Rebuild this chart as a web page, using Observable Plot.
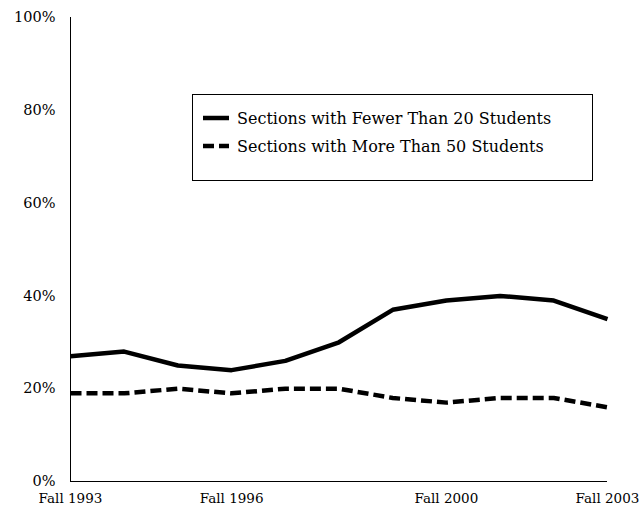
<!DOCTYPE html>
<html><head>
<meta charset="utf-8">
<script src="https://cdn.jsdelivr.net/npm/d3@7"></script>
<script src="https://cdn.jsdelivr.net/npm/@observablehq/plot@0.6"></script>
<style>
body{margin:0;background:#fff;}
#chart svg{display:block;}
</style>
</head><body><div id="chart"></div>
<script>
const years = [1993,1994,1995,1996,1997,1998,1999,2000,2001,2002,2003];
const fewerThan20 = [27,28,25,24,26,30,37,39,40,39,35];
const moreThan50 = [19,19,20,19,20,20,18,17,18,18,16];
const xTicks = [1993,1996,2000,2003];
const yTicks = [0,20,40,60,80,100];
const seriesNames = ["Sections with Fewer Than 20 Students","Sections with More Than 50 Students"];

const FONT = "'DejaVu Serif', serif";

const data = [];
years.forEach((y,i)=>{
  data.push({year:y, value:fewerThan20[i], series:seriesNames[0]});
  data.push({year:y, value:moreThan50[i], series:seriesNames[1]});
});

const chart = Plot.plot({
  width: 640,
  height: 510,
  marginLeft: 70,
  marginRight: 33,
  marginTop: 17,
  marginBottom: 29,
  style: {fontFamily: FONT, fontSize: "14px", color:"#000", background:"#fff", overflow:"visible"},
  x: {domain:[1993,2003], label:null},
  y: {domain:[0,100], label:null},
  marks: [
    Plot.axisX({ticks: xTicks, tickFormat: d=>"Fall "+d, tickSize:0, tickPadding:12, fontSize:13.5}),
    Plot.axisY({ticks: yTicks, tickFormat: d=>d+"%", tickSize:0, tickPadding:15, fontSize:14.5}),
    Plot.ruleX([1993], {stroke:"#000", strokeWidth:1}),
    Plot.ruleY([0], {stroke:"#000", strokeWidth:1}),
    Plot.line(data.filter(d=>d.series===seriesNames[0]), {x:"year", y:"value", stroke:"#000", strokeWidth:4.5, strokeLinejoin:"miter", strokeLinecap:"butt"}),
    Plot.line(data.filter(d=>d.series===seriesNames[1]), {x:"year", y:"value", stroke:"#000", strokeWidth:4.5, strokeDasharray:"11,5", strokeLinecap:"butt"})
  ]
});
document.getElementById("chart").appendChild(chart);

// legend
const svg = d3.select(chart);
const g = svg.append("g").attr("text-anchor","start");
g.append("rect").attr("x",192.5).attr("y",94.5).attr("width",400).attr("height",86)
  .attr("fill","#fff").attr("stroke","#000").attr("stroke-width",1);
const ly = [118,146];
seriesNames.forEach((name,i)=>{
  g.append("line").attr("x1",203).attr("x2",229).attr("y1",ly[i]).attr("y2",ly[i])
    .attr("stroke","#000").attr("stroke-width",4.5)
    .attr("stroke-dasharray", i===1 ? "11,5" : null);
  g.append("text").attr("x",237).attr("y",ly[i]).attr("dy","0.35em")
    .attr("font-family",FONT).attr("font-size",16).attr("fill","#000").text(name);
});
</script>
</body></html>
